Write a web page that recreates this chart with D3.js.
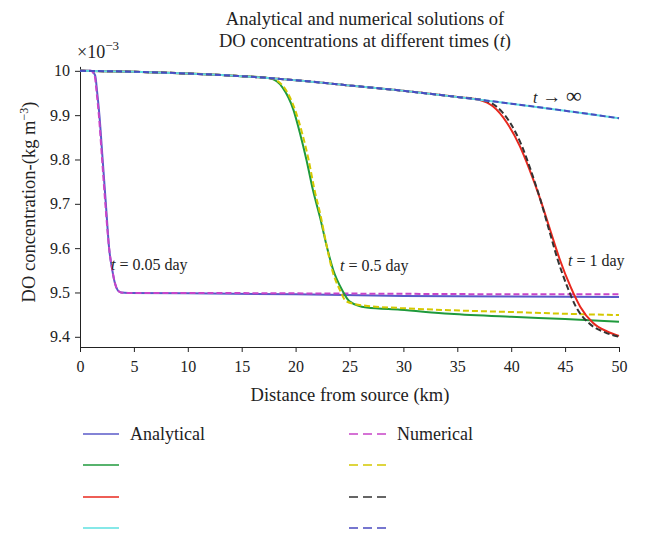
<!DOCTYPE html>
<html>
<head>
<meta charset="utf-8">
<script src="https://cdn.jsdelivr.net/npm/d3@7"></script>
<style>
  body { margin: 0; background: #fff; }
  text { font-family: "Liberation Serif", "DejaVu Serif", serif; fill: #222; }
</style>
</head>
<body>
<div id="chart"></div>
<script>
'use strict';

var width = 649;
var height = 535;

// distances (km) and DO values (x10^-3 kg m^-3)
var kmSteady = [0, 5, 10, 15, 20, 25, 30, 35, 40, 45, 50];
var doSteady = [10.0, 9.998, 9.994, 9.988, 9.979, 9.967, 9.955, 9.941, 9.926, 9.910, 9.893];

var kmT005a = [0, 1.0, 1.4, 1.6, 1.8, 2.1, 2.4, 2.7, 3.0, 3.25, 3.5, 3.8, 4.5, 10, 20, 30, 40, 50];
var doT005a = [10, 10, 9.99, 9.95, 9.9, 9.8, 9.7, 9.6, 9.55, 9.52, 9.505, 9.5, 9.499, 9.498, 9.496, 9.492, 9.491, 9.490];
var kmT005n = [0, 1.0, 1.35, 1.55, 1.75, 2.05, 2.35, 2.7, 3.0, 3.25, 3.5, 3.8, 4.5, 10, 20, 30, 40, 50];
var doT005n = [10, 10, 9.99, 9.95, 9.9, 9.8, 9.7, 9.6, 9.55, 9.52, 9.505, 9.5, 9.499, 9.499, 9.498, 9.497, 9.496, 9.496];

var kmT05a = [0, 5, 10, 15, 17.6, 18.8, 19.8, 20.4, 21.0, 21.6, 22.26, 22.9, 23.5, 24.3, 25.0, 26.6, 29.7, 34.3, 40, 45, 50];
var doT05a = [10, 9.998, 9.994, 9.988, 9.983, 9.962, 9.912, 9.86, 9.8, 9.732, 9.67, 9.603, 9.55, 9.506, 9.48, 9.466, 9.461, 9.452, 9.445, 9.44, 9.434];
var kmT05n = [0, 5, 10, 15, 17.7, 18.95, 19.95, 20.6, 21.2, 21.75, 22.35, 22.9, 23.4, 24.1, 24.7, 26.5, 29.7, 34.3, 40, 45, 50];
var doT05n = [10, 9.998, 9.994, 9.988, 9.983, 9.962, 9.912, 9.86, 9.8, 9.732, 9.67, 9.603, 9.55, 9.506, 9.48, 9.47, 9.465, 9.46, 9.456, 9.452, 9.449];

var kmT1a = [0, 5, 10, 15, 20, 25, 30, 35, 37.1, 38.3, 39.6, 40.8, 41.7, 42.7, 43.6, 44.5, 45.5, 46.4, 47.6, 48.9, 50];
var doT1a = [10.0, 9.998, 9.994, 9.988, 9.979, 9.967, 9.955, 9.941, 9.934, 9.92, 9.883, 9.83, 9.777, 9.71, 9.642, 9.575, 9.513, 9.468, 9.431, 9.412, 9.402];
var kmT1n = [0, 5, 10, 15, 20, 25, 30, 35, 37.4, 38.6, 39.9, 41.0, 41.8, 42.7, 43.5, 44.3, 45.2, 46.0, 47.2, 48.7, 50];
var doT1n = [10.0, 9.998, 9.994, 9.988, 9.979, 9.967, 9.955, 9.941, 9.934, 9.92, 9.883, 9.83, 9.777, 9.71, 9.642, 9.575, 9.513, 9.468, 9.431, 9.41, 9.40];

var xTicks = [0, 5, 10, 15, 20, 25, 30, 35, 40, 45, 50];
var yTicks = [9.4, 9.5, 9.6, 9.7, 9.8, 9.9, 10];

// draw order: analytical solid first, numerical dashed on top
var series = [
  {km: kmT005a, val: doT005a, color: '#5a5ac8', dash: null},
  {km: kmT005n, val: doT005n, color: '#c844c8', dash: '6,3'},
  {km: kmT05a, val: doT05a, color: '#1f9a3c', dash: null},
  {km: kmT05n, val: doT05n, color: '#d4c800', dash: '6,3'},
  {km: kmT1a, val: doT1a, color: '#e8281e', dash: null},
  {km: kmT1n, val: doT1n, color: '#333333', dash: '6,3'},
  {km: kmSteady, val: doSteady, color: '#5ee0e0', dash: null},
  {km: kmSteady, val: doSteady, color: '#4a4ac0', dash: '6,3'}
];

var svg = d3.select('#chart').append('svg')
  .attr('width', width)
  .attr('height', height);

var xScale = d3.scaleLinear().domain([0, 50]).range([80, 619]);
var yScale = d3.scaleLinear().domain([9.377, 10.01]).range([347, 66.4]);

// title
var title = svg.append('text')
  .attr('text-anchor', 'middle')
  .style('font-size', '18.5px');
title.append('tspan').attr('x', 365).attr('y', 25).text('Analytical and numerical solutions of');
var t2 = title.append('tspan').attr('x', 365).attr('y', 47);
t2.append('tspan').text('DO concentrations at different times (');
t2.append('tspan').style('font-style', 'italic').text('t');
t2.append('tspan').text(')');

// axes
var xAxis = d3.axisBottom(xScale).tickValues(xTicks).tickSize(5).tickSizeOuter(0).tickPadding(9);
var yAxis = d3.axisLeft(yScale).tickValues(yTicks).tickSize(5).tickSizeOuter(0).tickPadding(5)
  .tickFormat(function(d){ return d === 10 ? '10' : d3.format('.1f')(d); });

var gx = svg.append('g').attr('transform', 'translate(0,347)').call(xAxis);
var gy = svg.append('g').attr('transform', 'translate(80,0)').call(yAxis);
[gx, gy].forEach(function(g){
  g.selectAll('text').style('font-size', '16px').style('font-family', '"Liberation Serif", serif').attr('fill', '#222');
  g.selectAll('path,line').attr('stroke', '#222');
});

// x10^-3
var mult = svg.append('text').attr('x', 77).attr('y', 58).style('font-size', '18px');
mult.append('tspan').text('\u00d710');
mult.append('tspan').attr('dy', -8).style('font-size', '13px').text('\u22123');

// axis labels
svg.append('text')
  .attr('x', 350).attr('y', 401)
  .attr('text-anchor', 'middle')
  .style('font-size', '18.5px')
  .text('Distance from source (km)');

var yl = svg.append('text')
  .attr('transform', 'translate(35,202) rotate(-90)')
  .attr('text-anchor', 'middle')
  .style('font-size', '18.5px');
yl.append('tspan').text('DO concentration-(kg m');
yl.append('tspan').attr('dy', -7).style('font-size', '12px').text('\u22123');
yl.append('tspan').attr('dy', 7).text(')');

// curves
var line = d3.line()
  .x(function(d){ return xScale(d[0]); })
  .y(function(d){ return yScale(d[1]); })
  .curve(d3.curveMonotoneX);

series.forEach(function(s){
  svg.append('path')
    .datum(d3.zip(s.km, s.val))
    .attr('d', line)
    .attr('fill', 'none')
    .attr('stroke', s.color)
    .attr('stroke-width', 2)
    .attr('stroke-dasharray', s.dash);
});

// annotations
function note(x, y, rest) {
  var t = svg.append('text').attr('x', x).attr('y', y).style('font-size', '16px');
  t.append('tspan').style('font-style', 'italic').text('t');
  t.append('tspan').text(rest);
  return t;
}
note(111, 270, ' = 0.05 day');
note(340, 271, ' = 0.5 day');
note(568, 266, ' = 1 day');
var inf = svg.append('text').attr('x', 533).attr('y', 103).style('font-size', '16px');
inf.append('tspan').style('font-style', 'italic').text('t');
inf.append('tspan').style('font-size', '19px').text(' \u2192 ');
inf.append('tspan').style('font-size', '22px').text('\u221e');

// legend
var legendLeft = ['#5a5ac8', '#1f9a3c', '#e8281e', '#5ee0e0'];
var legendRight = ['#c844c8', '#d4c800', '#333333', '#4a4ac0'];
var legendY = [434, 465, 497, 528];

legendLeft.forEach(function(c, i){
  svg.append('line')
    .attr('x1', 83).attr('x2', 119)
    .attr('y1', legendY[i]).attr('y2', legendY[i])
    .attr('stroke', c).attr('stroke-width', 1.5);
});
legendRight.forEach(function(c, i){
  svg.append('line')
    .attr('x1', 349).attr('x2', 386)
    .attr('y1', legendY[i]).attr('y2', legendY[i])
    .attr('stroke', c).attr('stroke-width', 1.5)
    .attr('stroke-dasharray', '9,5');
});
svg.append('text').attr('x', 130).attr('y', 440).style('font-size', '18px').text('Analytical');
svg.append('text').attr('x', 397).attr('y', 440).style('font-size', '18px').text('Numerical');
</script>
</body>
</html>
